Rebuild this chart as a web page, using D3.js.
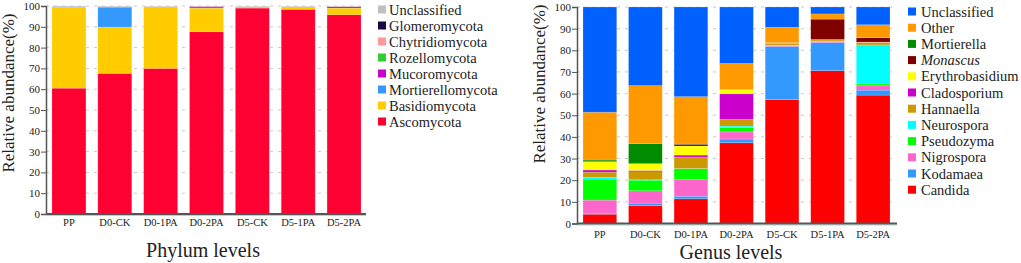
<!DOCTYPE html>
<html>
<head>
<meta charset="utf-8">
<script src="https://cdn.jsdelivr.net/npm/d3@7"></script>
<style>
  body { margin: 0; background: #fff; }
  svg { display: block; }
  svg text { font-family: 'Liberation Serif', serif; }
</style>
</head>
<body>
<div id="chart"></div>
<script>
// samples (x categories) ------------------------------------------------------------
const samples = ['PP', 'D0-CK', 'D0-1PA', 'D0-2PA', 'D5-CK', 'D5-1PA', 'D5-2PA'];
const yTicks = [0, 10, 20, 30, 40, 50, 60, 70, 80, 90, 100];

// phylum level (bottom -> top) -------------------------------------------------------
const phylumNames = ['Ascomycota', 'Basidiomycota', 'Mortierellomycota', 'Mucoromycota',
  'Rozellomycota', 'Chytridiomycota', 'Glomeromycota', 'Unclassified'];
const phylumColors = ['#ff0033', '#ffcc00', '#3399ff', '#cc00cc',
  '#33cc33', '#ff9999', '#1a0a3f', '#c0c0c0'];
const ascomycota        = [60.5, 67.6, 70.0, 87.6, 99.0, 98.4, 95.8];
const basidiomycota     = [39.0, 22.3, 29.6, 11.4, 0.3, 1.2, 3.2];
const mortierellomycota = [0.3, 9.5, 0.05, 0.1, 0.05, 0.05, 0.05];
const mucoromycota      = [0.05, 0.15, 0.1, 0.7, 0.1, 0.1, 0.7];
const rozellomycota     = [0, 0.05, 0.05, 0, 0.2, 0.05, 0.05];
const chytridiomycota   = [0, 0.1, 0.05, 0.05, 0.05, 0.05, 0.05];
const glomeromycota     = [0, 0.05, 0, 0, 0, 0, 0];
const phylumUnclass     = [0.15, 0.25, 0.15, 0.15, 0.3, 0.15, 0.15];
const phylumValues = [ascomycota, basidiomycota, mortierellomycota, mucoromycota,
  rozellomycota, chytridiomycota, glomeromycota, phylumUnclass];

// genus level (bottom -> top) --------------------------------------------------------
const genusNames = ['Candida', 'Kodamaea', 'Nigrospora', 'Pseudozyma', 'Neurospora', 'Hannaella',
  'Cladosporium', 'Erythrobasidium', 'Monascus', 'Mortierella', 'Other', 'Unclassified'];
const genusColors = ['#ff0000', '#3399ff', '#ff66cc', '#00ff00', '#00ffff', '#cc9900',
  '#cc00cc', '#ffff00', '#800000', '#008b00', '#ff9900', '#0061ff'];
const candida         = [4.3, 8.2, 11.4, 37.3, 57.2, 70.6, 59.3];
const kodamaea        = [0.2, 1.2, 1.2, 1.7, 24.6, 13.0, 2.3];
const nigrospora      = [6.3, 5.7, 7.6, 3.3, 0.5, 0.6, 2.0];
const pseudozyma      = [9.7, 4.9, 5.1, 2.1, 0.05, 0.05, 0.9];
const neurospora      = [0.8, 0.2, 0.1, 0.6, 0.05, 0.05, 18.0];
const hannaella       = [2.4, 3.7, 5.3, 3.1, 0.8, 0.5, 1.1];
const cladosporium    = [1.0, 0.6, 0.9, 11.8, 0.1, 0.1, 0.1];
const erythrobasidium = [3.8, 3.1, 4.2, 1.8, 0.05, 0.1, 0.1];
const monascus        = [0.1, 0.1, 0.8, 0.1, 0.1, 9.4, 2.0];
const mortierella     = [0.7, 9.2, 0.1, 0.1, 0.05, 0.05, 0.05];
const other           = [22.1, 26.8, 21.9, 12.0, 7.1, 2.35, 5.95];
const genusUnclass    = [48.6, 36.3, 41.4, 26.1, 9.4, 3.2, 8.2];
const genusValues = [candida, kodamaea, nigrospora, pseudozyma, neurospora, hannaella,
  cladosporium, erythrobasidium, monascus, mortierella, other, genusUnclass];

// -------------------------------------------------------------------------------------
const width = 1021, height = 263;
const fontFam = "'Liberation Serif', serif";
const svg = d3.select('#chart').append('svg')
  .attr('width', width)
  .attr('height', height)
  .attr('viewBox', '0 0 ' + width + ' ' + height)
  .attr('font-family', fontFam);

// one stacked bar panel ----------------------------------------------------------------
const drawPanel = cfg => {
  const g = svg.append('g');
  const xScale = d3.scaleBand()
    .domain(samples)
    .range([cfg.barLeft, cfg.barRight])
    .paddingInner(0.26)
    .paddingOuter(0);
  const yScale = d3.scaleLinear()
    .domain([0, 100])
    .range([cfg.y0, cfg.y100]);

  // grid lines
  g.selectAll('.grid')
    .data(yTicks.slice(1))
    .enter()
    .append('line')
    .attr('x1', cfg.axisX)
    .attr('x2', cfg.axisRight)
    .attr('y1', d => yScale(d))
    .attr('y2', d => yScale(d))
    .attr('stroke', '#c8c8c8')
    .attr('stroke-width', 1)
    .attr('stroke-dasharray', '3,5');

  // stacked data
  const table = samples.map((s, i) => {
    const row = { sample: s };
    cfg.names.forEach((n, k) => { row[n] = cfg.values[k][i]; });
    return row;
  });
  const stacked = d3.stack().keys(cfg.names)(table);

  g.selectAll('.layer')
    .data(stacked)
    .enter()
    .append('g')
    .attr('fill', (d, k) => cfg.colors[k])
    .selectAll('rect')
    .data(d => d)
    .enter()
    .append('rect')
    .attr('x', d => xScale(d.data.sample))
    .attr('width', xScale.bandwidth())
    .attr('y', d => yScale(d[1]))
    .attr('height', d => Math.max(0, yScale(d[0]) - yScale(d[1])))
    .attr('stroke', '#ffffff')
    .attr('stroke-opacity', 0.25)
    .attr('stroke-width', 0.6);

  // y axis
  const yAxis = d3.axisLeft(yScale).tickValues(yTicks).tickSize(5).tickPadding(1);
  const ya = g.append('g')
    .attr('transform', 'translate(' + cfg.axisX + ',0)')
    .call(yAxis)
    .attr('font-family', fontFam);
  ya.select('.domain').attr('stroke', '#555').attr('stroke-width', 1.5);
  ya.selectAll('.tick line').attr('stroke', '#555');
  ya.selectAll('text')
    .attr('font-size', '11px')
    .attr('fill', '#222');

  // x axis
  const xAxis = d3.axisBottom(xScale).tickSize(0).tickPadding(cfg.xLabelPad);
  const xa = g.append('g')
    .attr('transform', 'translate(0,' + cfg.y0 + ')')
    .call(xAxis)
    .attr('font-family', fontFam);
  xa.select('.domain').remove();
  xa.selectAll('text')
    .attr('font-size', '10.5px')
    .attr('fill', '#222');
  g.append('line')
    .attr('x1', cfg.axisX).attr('x2', cfg.axisRight)
    .attr('y1', cfg.y0 + 1.5).attr('y2', cfg.y0 + 1.5)
    .attr('stroke', '#9dd')
    .attr('stroke-width', 1);
  g.append('line')
    .attr('x1', cfg.axisX).attr('x2', cfg.axisRight)
    .attr('y1', cfg.y0).attr('y2', cfg.y0)
    .attr('stroke', '#555')
    .attr('stroke-width', 1.8);

  // axis titles
  g.append('text')
    .attr('transform', 'translate(' + cfg.yTitleX + ',' + cfg.yTitleY + ') rotate(-90)')
    .attr('text-anchor', 'middle')
    .attr('font-size', '17px')
    .attr('fill', '#222')
    .text('Relative abundance(%)');
  g.append('text')
    .attr('x', cfg.xTitleX)
    .attr('y', cfg.xTitleY)
    .attr('text-anchor', 'middle')
    .attr('font-size', '20px')
    .attr('fill', '#222')
    .text(cfg.xTitle);

  // legend (top of stack first)
  const legendItems = cfg.names.map((n, k) => ({ name: n, color: cfg.colors[k] })).reverse();
  const lg = g.selectAll('.legend')
    .data(legendItems)
    .enter()
    .append('g')
    .attr('transform', (d, i) => 'translate(' + cfg.legendX + ',' + (cfg.legendY + i * cfg.legendStep) + ')');
  lg.append('rect')
    .attr('x', 0)
    .attr('y', -4)
    .attr('width', 8)
    .attr('height', 8)
    .attr('fill', d => d.color);
  lg.append('text')
    .attr('x', cfg.legendTextDx)
    .attr('y', 5)
    .attr('font-size', '14.5px')
    .attr('fill', '#222')
    .attr('font-style', d => cfg.italic.includes(d.name) ? 'italic' : 'normal')
    .text(d => d.name);
};

drawPanel({
  names: phylumNames, colors: phylumColors, values: phylumValues,
  barLeft: 52, barRight: 361, axisX: 46, axisRight: 366,
  y0: 214, y100: 6, xLabelPad: 5,
  yTitleX: 14, yTitleY: 93, xTitleX: 203, xTitleY: 257, xTitle: 'Phylum levels',
  legendX: 378, legendY: 9.5, legendStep: 16, legendTextDx: 11, italic: []
});

drawPanel({
  names: genusNames, colors: genusColors, values: genusValues,
  barLeft: 583, barRight: 890, axisX: 577, axisRight: 897,
  y0: 223.5, y100: 7, xLabelPad: 7,
  yTitleX: 545, yTitleY: 84, xTitleX: 731, xTitleY: 259, xTitle: 'Genus levels',
  legendX: 908, legendY: 11.5, legendStep: 16.2, legendTextDx: 13, italic: ['Monascus']
});
</script>
</body>
</html>
